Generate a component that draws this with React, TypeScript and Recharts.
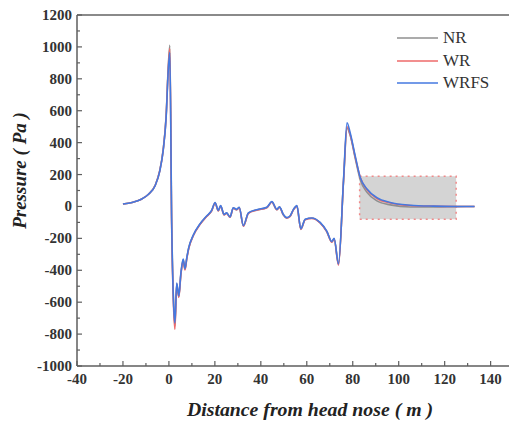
import {
  LineChart,
  Line,
  XAxis,
  YAxis,
  ReferenceArea,
  ReferenceLine,
  Legend,
  Label,
} from "recharts";

// distance from the head nose (m)
const distance = [
  -20, -16, -12, -9, -6, -4, -2.5, -1.2, -0.3, 0.4,
  1.2, 2.0, 2.6, 3.4, 4.3, 5.2, 6.2, 7.0, 7.8, 8.6,
  10.6, 13.5, 16.4, 18.6, 20.1, 21.5, 22.5, 24.0, 25.1, 26.6,
  28.0, 29.5, 30.6, 32.4, 34.6, 38.2, 42.6, 44.8, 47.0, 48.1,
  49.8, 51.3, 52.7, 54.2, 55.7, 57.4, 59.3, 62.2, 65.8, 68.7,
  70.9, 71.9, 73.8, 76.0, 77.5, 78.9, 81.1, 83.3, 86.2, 90.5,
  96.3, 105, 115, 125, 133,
];

// pressure (Pa)
const nr = [
  15, 25, 45, 75, 132, 224, 356, 572, 870, 1010,
  -80, -590, -750, -485, -565, -425, -335, -392, -322, -262,
  -182, -112, -62, -27, 22, -27, 3, -52, -42, -67,
  -10, -20, -7, -122, -42, -22, -7, 28, -20, -4,
  -52, -72, -62, -20, 3, -142, -82, -74, -102, -157,
  -222, -202, -362, 160, 490, 445, 300, 165, 88, 35,
  10, -3, -3, -1, 0,
];

const wr = [
  15, 25, 45, 75, 131, 222, 352, 565, 860, 990,
  -130, -620, -770, -490, -570, -430, -340, -398, -326, -266,
  -184, -114, -63, -28, 22, -28, 2, -53, -43, -68,
  -11, -21, -8, -124, -43, -23, -8, 27, -21, -5,
  -53, -73, -63, -21, 2, -144, -83, -75, -103, -158,
  -224, -204, -368, 165, 500, 450, 308, 182, 104, 50,
  22, 6, 2, 0, 0,
];

const wrfs = [
  15, 25, 45, 75, 130, 220, 350, 560, 850, 965,
  -100, -600, -730, -480, -560, -420, -330, -390, -320, -260,
  -180, -110, -60, -25, 25, -25, 5, -50, -40, -65,
  -8, -18, -5, -120, -40, -20, -5, 30, -18, -2,
  -50, -70, -60, -18, 5, -140, -80, -72, -100, -155,
  -220, -200, -360, 170, 525, 460, 315, 180, 110, 55,
  25, 8, 2, 0, 0,
];

const xTicks = [-40, -30, -20, -10, 0, 10, 20, 30, 40, 50, 60, 70, 80, 90, 100, 110, 120, 130, 140];
const yTicks = [
  -1000, -900, -800, -700, -600, -500, -400, -300, -200, -100, 0,
  100, 200, 300, 400, 500, 600, 700, 800, 900, 1000, 1100, 1200,
];

const series = [
  { key: "nr", name: "NR", color: "#8f8f8f" },
  { key: "wr", name: "WR", color: "#ee6a6a" },
  { key: "wrfs", name: "WRFS", color: "#4479e0" },
];

const data = distance.map((x, i) => ({ x, nr: nr[i], wr: wr[i], wrfs: wrfs[i] }));

const axisColor = "#5e5e5e";
const serif = "'Liberation Serif', 'Times New Roman', serif";
const tickStyle = { fontFamily: serif, fontWeight: 700, fontSize: 15 };
const titleStyle = { fontFamily: serif, fontWeight: 700, fontStyle: "italic" };

function XTick({ x, y, payload }: any) {
  const v = payload.value;
  const major = v % 20 === 0;
  return (
    <g>
      <line x1={x} x2={x} y1={y} y2={y - (major ? 5 : 3)} stroke={axisColor} strokeWidth={1.2} />
      {major && (
        <text x={x} y={y + 18} textAnchor="middle" style={tickStyle} fill="#333">
          {v}
        </text>
      )}
    </g>
  );
}

function YTick({ x, y, payload }: any) {
  const v = payload.value;
  const major = v % 200 === 0;
  return (
    <g>
      <line x1={x} x2={x + (major ? 5 : 3)} y1={y} y2={y} stroke={axisColor} strokeWidth={1.2} />
      {major && (
        <text x={x - 5} y={y + 5} textAnchor="end" style={tickStyle} fill="#333">
          {v}
        </text>
      )}
    </g>
  );
}

function LegendBox() {
  return (
    <div style={{ fontFamily: serif, fontSize: 17, color: "#333" }}>
      {series.map((s) => (
        <div key={s.key} style={{ display: "flex", alignItems: "center", height: 22.5 }}>
          <svg width={41} height={4} style={{ marginRight: 5 }}>
            <line x1={0} x2={41} y1={2} y2={2} stroke={s.color} strokeWidth={1.6} />
          </svg>
          <span>{s.name}</span>
        </div>
      ))}
    </div>
  );
}

export default function App() {
  return (
    <div style={{ position: "absolute", left: 0, top: 0, background: "#fff" }}>
      <LineChart width={509} height={425} data={data} margin={{ top: 15, right: 0, bottom: 0, left: 0 }}>
        <XAxis
          dataKey="x"
          type="number"
          domain={[-40, 148]}
          ticks={xTicks}
          allowDataOverflow
          height={59}
          tickSize={0}
          tickMargin={0}
          tickLine={false}
          axisLine={{ stroke: axisColor, strokeWidth: 1.5 }}
          tick={<XTick />}
          interval={0}
        >
          <Label
            content={({ viewBox }: any) => (
              <text
                x={viewBox.x + viewBox.width / 2 + 17}
                y={viewBox.y + 50}
                textAnchor="middle"
                style={{ ...titleStyle, fontSize: 19.8 }}
                fill="#222"
              >
                Distance from head nose ( m )
              </text>
            )}
          />
        </XAxis>
        <YAxis
          type="number"
          domain={[-1000, 1200]}
          ticks={yTicks}
          allowDataOverflow
          width={77}
          tickSize={0}
          tickMargin={0}
          tickLine={false}
          axisLine={{ stroke: axisColor, strokeWidth: 1.5 }}
          tick={<YTick />}
          interval={0}
        >
          <Label
            content={({ viewBox }: any) => {
              const cx = 19;
              const cy = viewBox.y + viewBox.height / 2 - 20;
              return (
                <text
                  x={cx}
                  y={cy}
                  transform={`rotate(-90, ${cx}, ${cy})`}
                  textAnchor="middle"
                  dominantBaseline="central"
                  style={{ ...titleStyle, fontSize: 19 }}
                  fill="#222"
                >
                  Pressure ( Pa )
                </text>
              );
            }}
          />
        </YAxis>
        <ReferenceLine y={1200} stroke="#8a8a8a" strokeWidth={2} />
        <ReferenceArea
          x1={83}
          x2={125}
          y1={-80}
          y2={190}
          fill="#d4d4d4"
          fillOpacity={1}
          stroke="#f08a8a"
          strokeDasharray="2 4"
          strokeWidth={1.5}
        />
        <Legend
          layout="vertical"
          align="center"
          verticalAlign="middle"
          wrapperStyle={{ left: 397, top: 27, width: "auto" }}
          content={() => <LegendBox />}
        />
        {series.map((s) => (
          <Line
            key={s.key}
            type="monotone"
            dataKey={s.key}
            name={s.name}
            stroke={s.color}
            strokeWidth={1.6}
            dot={false}
            isAnimationActive={false}
          />
        ))}
      </LineChart>
    </div>
  );
}
